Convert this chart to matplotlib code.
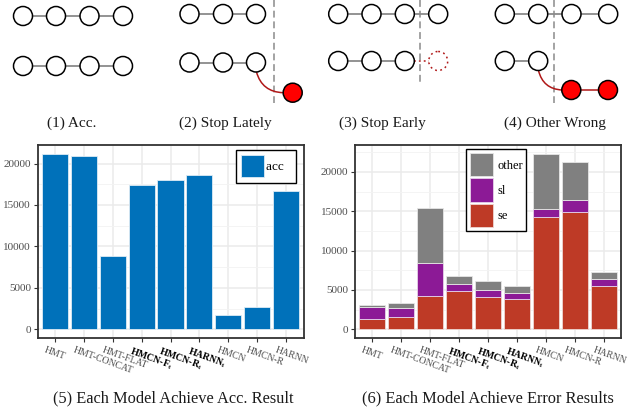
import matplotlib
matplotlib.use("Agg")
import matplotlib.pyplot as plt
from matplotlib.patches import Circle, PathPatch
from matplotlib.path import Path
from matplotlib.transforms import ScaledTranslation
from matplotlib.ticker import MultipleLocator
import numpy as np

plt.rcParams['font.family'] = ['Liberation Serif', 'DejaVu Serif']
plt.rcParams['mathtext.fontset'] = 'custom'
plt.rcParams['mathtext.rm'] = 'Liberation Serif'
plt.rcParams['mathtext.it'] = 'Liberation Serif:italic'
plt.rcParams['mathtext.bf'] = 'Liberation Serif:bold'

# ---------------- data ----------------
models = ['HMT', 'HMT-CONCAT', 'HMT-FLAT', 'HMCN-F_t', 'HMCN-R_t', 'HARNN_t',
          'HMCN', 'HMCN-R', 'HARNN']
model_labels = ['HMT', 'HMT-CONCAT', 'HMT-FLAT', r'HMCN-F${}_\mathbf{t}$',
                r'HMCN-R${}_\mathbf{t}$', r'HARNN${}_\mathbf{t}$', 'HMCN', 'HMCN-R', 'HARNN']
bold_models = [False, False, False, True, True, True, False, False, False]
acc = [21180, 20930, 8830, 17380, 17980, 18590, 1690, 2700, 16650]
se = [1330, 1530, 4250, 4850, 4080, 3830, 14260, 14940, 5490]
sl = [1520, 1190, 4140, 850, 860, 770, 1060, 1440, 850]
other = [210, 600, 7010, 1020, 1150, 890, 6980, 4900, 980]

C_ACC = '#0071BA'
C_SE = '#BE3A26'
C_SL = '#8C1A96'
C_OTHER = '#808080'

W, H = 628, 408
fig = plt.figure(figsize=(W / 100, H / 100), dpi=100)


def px_axes(x0, y0, x1, y1):
    return fig.add_axes([x0 / W, 1 - y1 / H, (x1 - x0) / W, (y1 - y0) / H])


def style_axes(ax, ymax):
    x = np.arange(1, len(models) + 1)
    ax.set_xlim(0.4, len(models) + 0.6)
    ax.set_ylim(-0.05 * ymax, 1.05 * ymax)
    ax.set_xticks(x)
    ax.set_xticklabels(model_labels)
    ax.yaxis.set_major_locator(MultipleLocator(5000))
    ax.yaxis.set_minor_locator(MultipleLocator(2500))
    ax.grid(which='major', color='#EBEBEB', linewidth=1.1)
    ax.grid(which='minor', axis='y', color='#F3F3F3', linewidth=0.6)
    ax.set_axisbelow(True)
    for s in ax.spines.values():
        s.set_color('#333333')
        s.set_linewidth(1.3)
    ax.tick_params(axis='both', which='major', length=3, width=0.8, color='#333333',
                   labelsize=8, labelcolor='#4D4D4D', pad=1.8)
    ax.tick_params(axis='x', which='major', labelsize=7, pad=2.5)
    ax.tick_params(axis='y', which='minor', length=0)
    off = ScaledTranslation(-9 / 100, 0, fig.dpi_scale_trans)
    for lab, b in zip(ax.get_xticklabels(), bold_models):
        lab.set_rotation(-20)
        lab.set_ha('left')
        lab.set_va('top')
        lab.set_rotation_mode('anchor')
        lab.set_transform(lab.get_transform() + off)
        if b:
            lab.set_fontweight('bold')
            lab.set_color('black')
    return x


# ---------------- left bar chart ----------------
ax1 = px_axes(37.5, 145, 303.5, 338)
x = style_axes(ax1, max(acc))
ax1.bar(x, acc, width=0.9, color=C_ACC, edgecolor='#DDEBF5', linewidth=0.6, label='acc')
leg1 = ax1.legend(loc='upper left', bbox_to_anchor=(236 / W, 1 - 150 / H),
                  bbox_transform=fig.transFigure, borderaxespad=0, fancybox=False,
                  edgecolor='black', framealpha=1, fontsize=9.5, handlelength=1.7,
                  handleheight=2.2, handletextpad=0.2, borderpad=0.4, labelspacing=0.2)
leg1.get_frame().set_linewidth(1.0)
# widen the frame like the reference (extra room to the right of the label)
leg1.texts[0].set_text('acc  ')

# ---------------- right stacked bar chart ----------------
ax2 = px_axes(355, 145, 621, 338)
tot = np.array(se) + np.array(sl) + np.array(other)
x = style_axes(ax2, tot.max())
b_se = ax2.bar(x, se, width=0.9, color=C_SE, edgecolor='#EED6D2', linewidth=0.6, label='se')
b_sl = ax2.bar(x, sl, bottom=se, width=0.9, color=C_SL, edgecolor='#E6D2EA', linewidth=0.6, label='sl')
b_ot = ax2.bar(x, other, bottom=np.array(se) + np.array(sl), width=0.9, color=C_OTHER,
               edgecolor='#E6E6E6', linewidth=0.6, label='other')
leg2 = ax2.legend([b_ot, b_sl, b_se], ['other', 'sl', 'se'], loc='upper left',
                  bbox_to_anchor=(466.3 / W, 1 - 149.3 / H), bbox_transform=fig.transFigure,
                  borderaxespad=0, fancybox=False, edgecolor='black', framealpha=1, fontsize=9,
                  handlelength=1.86, handleheight=2.5, handletextpad=0.3, borderpad=0.3,
                  labelspacing=0.15)
leg2.get_frame().set_linewidth(1.0)

# ---------------- top schematic diagrams (pixel coordinates) ----------------
ov = fig.add_axes([0, 0, 1, 1], zorder=-1)
ov.set_xlim(0, W)
ov.set_ylim(H, 0)
ov.axis('off')
R = 9.5
LW = 1.1


def chain(xs, y, fill='white', edge='black', ls='-', line_color='#808080'):
    for a, b in zip(xs[:-1], xs[1:]):
        ov.plot([a, b], [y, y], color=line_color, lw=1.2, zorder=1, solid_capstyle='butt')
    for xc in xs:
        ov.add_patch(Circle((xc, y), R, facecolor=fill, edgecolor=edge, lw=LW, zorder=3, ls=ls))


def vdash(xp, y0, y1):
    ov.plot([xp, xp], [y0, y1], color='#8A8A8A', lw=1.1, ls=(0, (4.5, 2.5)), zorder=2)


def curve(p0, p1, ctrl):
    path = Path([p0, ctrl, p1], [Path.MOVETO, Path.CURVE3, Path.CURVE3])
    ov.add_patch(PathPatch(path, facecolor='none', edgecolor='#B01818', lw=1.1, zorder=2))


RED = '#FF0000'
# (1) Acc.
chain([23, 56, 89.5, 123], 16)
chain([23, 56, 89.5, 123], 66)
# (2) Stop Lately
chain([189.5, 223, 256], 14)
chain([189.5, 223, 256], 62.5)
vdash(274, 0, 103)
curve((256.5, 72), (283.2, 92.7), (262, 92))
ov.add_patch(Circle((292.7, 92.7), R, facecolor=RED, edgecolor='black', lw=LW, zorder=3))
# (3) Stop Early
chain([338.2, 371.5, 404.8, 438.2], 14)
chain([338.2, 371.5, 404.8], 61)
ov.plot([404.8 + R, 438.2 - R], [61, 61], color='#B01818', lw=1.1, ls=(0, (1.2, 2)), zorder=2)
ov.add_patch(Circle((438.2, 61), R, facecolor='white', edgecolor='#B01818', lw=1.1,
                    ls=(0, (1.2, 2.2)), zorder=3))
vdash(420, 0, 83)
# (4) Other Wrong
chain([504.8, 538.2, 571.5, 608.2], 14)
chain([504.8, 538.2], 61)
vdash(554, 0, 103)
curve((538.5, 70.5), (562, 90), (543, 89))
ov.plot([571.3, 608], [90, 90], color='#B01818', lw=1.1, zorder=2)
for xc in [571.3, 608]:
    ov.add_patch(Circle((xc, 90), R, facecolor=RED, edgecolor='black', lw=LW, zorder=3))

# captions
cap_kw = dict(ha='center', va='center', color='#1A1A1A')
ov.text(71.7, 123, '(1) Acc.', fontsize=11, **cap_kw)
ov.text(225.8, 123, '(2) Stop Lately', fontsize=11, **cap_kw)
ov.text(382.3, 123, '(3) Stop Early', fontsize=11, **cap_kw)
ov.text(554.8, 123, '(4) Other Wrong', fontsize=11, **cap_kw)
ov.text(173, 398, '(5) Each Model Achieve Acc. Result', fontsize=11.8, **cap_kw)
ov.text(488.2, 398, '(6) Each Model Achieve Error Results', fontsize=11.8, **cap_kw)

fig.savefig('out.png', dpi=100)
